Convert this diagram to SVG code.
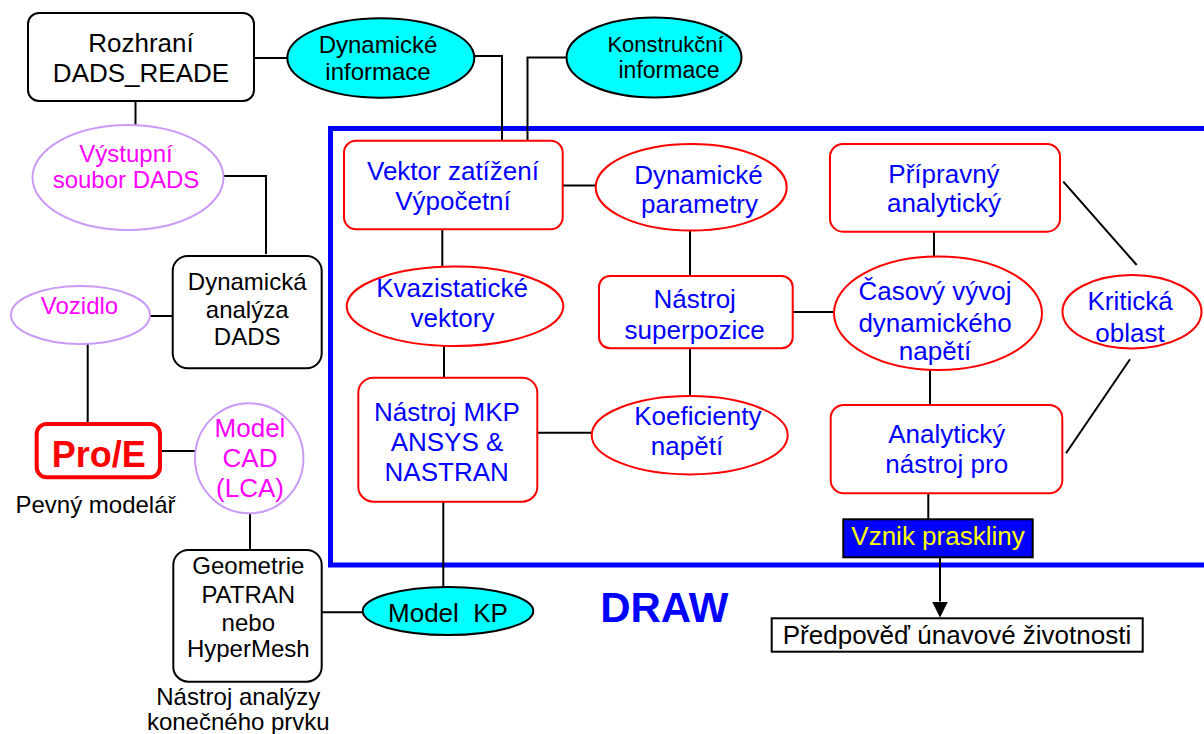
<svg xmlns="http://www.w3.org/2000/svg" width="1204" height="734" viewBox="0 0 1204 734">
<style>
text{font-family:"Liberation Sans",Arial,sans-serif;text-anchor:middle}
.k{fill:#000;font-size:24px}
.k26{fill:#000;font-size:26px}
.b{fill:#0000FF;font-size:26px}
.m{fill:#FF00FF;font-size:24px}
.bx{fill:#fff;stroke:#000;stroke-width:2}
.rb{fill:#fff;stroke:#FF0000;stroke-width:2}
.cy{fill:#00FFFF;stroke:#000;stroke-width:2}
.lv{fill:#fff;stroke:#C99BF5;stroke-width:2}
.ln{fill:none;stroke:#000;stroke-width:2}
</style>
<defs>
<marker id="ah" markerWidth="16" markerHeight="17" refX="0" refY="8.5" orient="auto" markerUnits="userSpaceOnUse">
<path d="M0,0.5 L16,8.5 L0,16.5 Z" fill="#000"/>
</marker>
</defs>
<rect id="frame" x="330.5" y="128.5" width="900" height="436.5" fill="none" stroke="#0000FF" stroke-width="5"/>
<g id="connectors">
<path class="ln" d="M253 58 H287"/>
<path class="ln" d="M474 56 H502 V141"/>
<path class="ln" d="M567 57.5 H527.5 V141"/>
<path class="ln" d="M135.5 101 V125"/>
<path class="ln" d="M223 176 H266 V254"/>
<path class="ln" d="M148 316 H173"/>
<path class="ln" d="M87.7 344 V424"/>
<path class="ln" d="M160 451 H195"/>
<path class="ln" d="M250 513 V550"/>
<path class="ln" d="M322 612.3 H362.7"/>
<path class="ln" d="M443.3 501.7 V587"/>
<path class="ln" d="M563 185.5 H596"/>
<path class="ln" d="M442.3 229 V266.7"/>
<path class="ln" d="M444 346 V377.7"/>
<path class="ln" d="M537.3 432.7 H591.7"/>
<path class="ln" d="M690 230.7 V276"/>
<path class="ln" d="M690 348.3 V396"/>
<path class="ln" d="M792.7 312 H834"/>
<path class="ln" d="M934 232 V256.7"/>
<path class="ln" d="M1063.3 181.7 L1136.7 265"/>
<path class="ln" d="M1130 359.3 L1066 453.3"/>
<path class="ln" d="M930 370 V405"/>
<path class="ln" d="M928.3 493.3 V519.3"/>
<path class="ln" d="M940 557.3 V601.5" marker-end="url(#ah)"/>
</g>
<g id="rozhrani">
<rect class="bx" x="28" y="13" width="226" height="88" rx="11"/>
<text class="k26" x="141" y="52">Rozhraní</text>
<text class="k26" x="141" y="82">DADS_READE</text>
</g>
<g id="dyn-info">
<ellipse class="cy" cx="380.8" cy="58" rx="93.5" ry="39.7"/>
<text class="k" x="378" y="53">Dynamické</text>
<text class="k" x="378" y="80">informace</text>
</g>
<g id="konstr-info">
<ellipse class="cy" cx="654" cy="57.5" rx="87.5" ry="40"/>
<text class="k" x="665.5" y="52" style="font-size:22px">Konstrukční</text>
<text class="k" x="669" y="78" style="font-size:23px">informace</text>
</g>
<g id="vystupni">
<ellipse class="lv" cx="128" cy="177.5" rx="95.5" ry="52.5"/>
<text class="m" x="126" y="162">Výstupní</text>
<text class="m" x="126" y="188">soubor DADS</text>
</g>
<g id="dynamicka">
<rect class="bx" x="172.7" y="256" width="149" height="112.3" rx="15"/>
<text class="k" x="247.2" y="290">Dynamická</text>
<text class="k" x="247.2" y="317.7">analýza</text>
<text class="k" x="247.2" y="345">DADS</text>
</g>
<g id="vozidlo">
<ellipse class="lv" cx="80.5" cy="315" rx="69.5" ry="29"/>
<text class="m" x="79.5" y="314">Vozidlo</text>
</g>
<g id="proe">
<rect x="36.7" y="424" width="123.3" height="53.3" rx="10" fill="#fff" stroke="#FF0000" stroke-width="4"/>
<text x="98.8" y="467" style="font-size:36px;font-weight:bold;fill:#FF0000">Pro/E</text>
</g>
<text id="pevny" class="k" x="95.5" y="513.3">Pevný modelář</text>
<g id="model-cad">
<ellipse class="lv" cx="249.2" cy="458.3" rx="54.2" ry="55"/>
<text class="m" x="250" y="436.7" style="font-size:26px">Model</text>
<text class="m" x="250" y="466.7" style="font-size:26px">CAD</text>
<text class="m" x="250" y="496.7" style="font-size:26px">(LCA)</text>
</g>
<g id="geometrie">
<rect class="bx" x="173.3" y="550" width="148.4" height="131.7" rx="15"/>
<text class="k" x="248.3" y="574.3">Geometrie</text>
<text class="k" x="248.3" y="602.7">PATRAN</text>
<text class="k" x="248.3" y="630.7">nebo</text>
<text class="k" x="248.3" y="656.7">HyperMesh</text>
</g>
<g id="nastroj-analyzy">
<text class="k" x="238.3" y="705">Nástroj analýzy</text>
<text class="k" x="238.3" y="730">konečného prvku</text>
</g>
<g id="model-kp">
<ellipse class="cy" cx="448" cy="611" rx="85.3" ry="24"/>
<text class="k26" x="448" y="621.7" xml:space="preserve">Model  KP</text>
</g>
<g id="vektor">
<rect class="rb" x="344" y="140.7" width="218.7" height="88.6" rx="12"/>
<text class="b" x="453" y="180">Vektor zatížení</text>
<text class="b" x="453" y="210">Výpočetní</text>
</g>
<g id="dyn-param">
<ellipse class="rb" cx="691.2" cy="187.3" rx="95.5" ry="43.3"/>
<text class="b" x="698.5" y="184.3">Dynamické</text>
<text class="b" x="699.5" y="213.3">parametry</text>
</g>
<g id="pripravny">
<rect class="rb" x="830" y="144" width="230" height="87.7" rx="13"/>
<text class="b" x="944" y="183.3">Přípravný</text>
<text class="b" x="944" y="211.7">analytický</text>
</g>
<g id="kvazi">
<ellipse class="rb" cx="455" cy="306.3" rx="108.3" ry="39.7"/>
<text class="b" x="452" y="297.3">Kvazistatické</text>
<text class="b" x="452.5" y="327.3">vektory</text>
</g>
<g id="superpozice">
<rect class="rb" x="599" y="276" width="193.7" height="72.3" rx="11"/>
<text class="b" x="694.7" y="308.3">Nástroj</text>
<text class="b" x="694.7" y="339.3">superpozice</text>
</g>
<g id="casovy">
<ellipse class="rb" cx="938" cy="313.3" rx="104" ry="56.7"/>
<text class="b" x="935" y="300">Časový vývoj</text>
<text class="b" x="935" y="331.7">dynamického</text>
<text class="b" x="935" y="360">napětí</text>
</g>
<g id="kriticka">
<ellipse class="rb" cx="1132" cy="311.7" rx="69.5" ry="36.7"/>
<text class="b" x="1130" y="310">Kritická</text>
<text class="b" x="1130" y="341.7">oblast</text>
</g>
<g id="mkp">
<rect class="rb" x="358.3" y="377.7" width="179" height="124" rx="15"/>
<text class="b" x="447" y="420.7">Nástroj MKP</text>
<text class="b" x="447" y="450.7">ANSYS &amp;</text>
<text class="b" x="446.7" y="480.7">NASTRAN</text>
</g>
<g id="koeficienty">
<ellipse class="rb" cx="689.7" cy="435.2" rx="98" ry="39.2"/>
<text class="b" x="697.8" y="425">Koeficienty</text>
<text class="b" x="687" y="455">napětí</text>
</g>
<g id="analyticky">
<rect class="rb" x="830.7" y="405" width="231.6" height="88.3" rx="13"/>
<text class="b" x="946.7" y="443.3">Analytický</text>
<text class="b" x="946.7" y="473.3">nástroj pro</text>
</g>
<g id="vznik">
<rect x="843.3" y="519.3" width="189.4" height="38" fill="#0000FF" stroke="#000" stroke-width="2"/>
<text x="938" y="545" style="font-size:26px;fill:#FFFF00">Vznik praskliny</text>
</g>
<g id="predpoved">
<rect x="771.7" y="618.3" width="371" height="33.4" fill="#fff" stroke="#000" stroke-width="2"/>
<text class="k26" x="957" y="644">Předpověď únavové životnosti</text>
</g>
<text id="draw" x="664.3" y="622.3" style="font-size:42px;font-weight:bold;fill:#0000FF">DRAW</text>
</svg>
